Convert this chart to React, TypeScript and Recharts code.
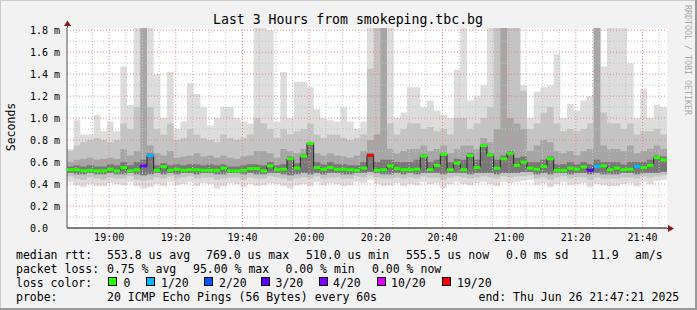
import { ComposedChart, Area, Line, Scatter, XAxis, YAxis, CartesianGrid, ReferenceLine } from "recharts";

// time axis in minutes after midnight, 2 minute buckets
const START = 18 * 60 + 47 + 21 / 60;
const STEP = 2;
const END = START + 180;

const median = [
  0.53, 0.53, 0.52, 0.525, 0.52, 0.52, 0.535, 0.52, 0.55, 0.52,
  0.53, 0.565, 0.66, 0.525, 0.557, 0.525, 0.535, 0.525, 0.53, 0.53,
  0.525, 0.525, 0.525, 0.545, 0.52, 0.52, 0.525, 0.54, 0.54, 0.52,
  0.565, 0.53, 0.535, 0.63, 0.545, 0.655, 0.77, 0.55, 0.535, 0.55,
  0.535, 0.535, 0.53, 0.525, 0.545, 0.66, 0.525, 0.53, 0.565, 0.54,
  0.53, 0.53, 0.535, 0.655, 0.53, 0.57, 0.67, 0.53, 0.59, 0.53,
  0.66, 0.55, 0.75, 0.665, 0.545, 0.63, 0.68, 0.57, 0.6, 0.545,
  0.535, 0.56, 0.63, 0.525, 0.525, 0.545, 0.535, 0.555, 0.525, 0.56,
  0.565, 0.53, 0.545, 0.53, 0.535, 0.56, 0.55, 0.57, 0.64, 0.62,
];

// lost pings out of 20
const loss = [
  0, 0, 0, 0, 0, 0, 0, 0, 0, 0,
  0, 3, 1, 0, 0, 0, 0, 0, 0, 0,
  0, 0, 0, 0, 0, 0, 0, 0, 0, 0,
  0, 0, 0, 0, 0, 0, 0, 0, 0, 0,
  0, 0, 0, 0, 0, 19, 0, 0, 0, 0,
  0, 0, 0, 0, 0, 0, 0, 0, 0, 0,
  0, 0, 0, 0, 0, 0, 0, 0, 0, 0,
  0, 0, 0, 0, 0, 0, 0, 0, 3, 1,
  0, 0, 0, 0, 0, 1, 0, 0, 0, 0,
];

const pingMin = [
  0.42, 0.39, 0.37, 0.4, 0.38, 0.38, 0.41, 0.4, 0.39, 0.42,
  0.38, 0.36, 0.37, 0.4, 0.38, 0.42, 0.39, 0.4, 0.42, 0.38,
  0.41, 0.4, 0.36, 0.38, 0.41, 0.4, 0.37, 0.4, 0.38, 0.39,
  0.41, 0.4, 0.38, 0.36, 0.39, 0.4, 0.38, 0.42, 0.39, 0.41,
  0.4, 0.38, 0.39, 0.42, 0.41, 0.44, 0.4, 0.38, 0.39, 0.41,
  0.38, 0.4, 0.39, 0.42, 0.4, 0.41, 0.36, 0.4, 0.42, 0.4,
  0.39, 0.41, 0.42, 0.4, 0.38, 0.42, 0.41, 0.42, 0.43, 0.44,
  0.39, 0.41, 0.37, 0.4, 0.42, 0.39, 0.4, 0.41, 0.37, 0.4,
  0.39, 0.38, 0.38, 0.4, 0.41, 0.38, 0.42, 0.4, 0.43, 0.44,
];

const pingMax = [
  0.72, 0.98, 0.85, 0.85, 1.03, 0.88, 0.97, 0.88, 1.47, 1.12,
  1.82, 1.82, 1.82, 1.4, 1.0, 1.42, 0.9, 0.97, 1.32, 1.22,
  1.1, 0.93, 1.0, 1.1, 1.1, 1.0, 0.97, 0.95, 1.82, 1.82,
  1.8, 0.97, 1.42, 1.0, 1.33, 1.33, 1.28, 1.08, 1.0, 0.98,
  0.97, 1.1, 0.97, 0.9, 0.97, 1.82, 1.82, 1.82, 1.82, 1.0,
  1.05, 1.28, 1.28, 1.1, 1.16, 1.07, 1.03, 1.0, 1.44, 1.82,
  1.16, 1.2, 1.3, 1.82, 1.82, 1.82, 1.82, 1.82, 1.3, 1.0,
  1.24, 1.28, 1.3, 1.58, 1.0, 1.13, 1.07, 1.16, 1.2, 1.82,
  1.47, 1.82, 1.82, 1.82, 1.5, 1.0, 1.27, 1.0, 1.12, 1.1,
];

const lowMid = [
  0.47, 0.45, 0.44, 0.46, 0.45, 0.44, 0.46, 0.45, 0.45, 0.47,
  0.44, 0.43, 0.44, 0.46, 0.45, 0.47, 0.45, 0.46, 0.47, 0.45,
  0.46, 0.46, 0.44, 0.45, 0.46, 0.46, 0.44, 0.46, 0.45, 0.45,
  0.47, 0.46, 0.45, 0.43, 0.45, 0.46, 0.45, 0.47, 0.45, 0.46,
  0.46, 0.45, 0.45, 0.47, 0.46, 0.48, 0.46, 0.45, 0.45, 0.46,
  0.45, 0.46, 0.45, 0.47, 0.46, 0.46, 0.44, 0.46, 0.47, 0.46,
  0.45, 0.46, 0.47, 0.46, 0.45, 0.47, 0.46, 0.47, 0.47, 0.48,
  0.45, 0.46, 0.44, 0.46, 0.47, 0.45, 0.46, 0.46, 0.44, 0.46,
  0.45, 0.45, 0.45, 0.46, 0.46, 0.45, 0.47, 0.46, 0.47, 0.48,
];

const highMid = [
  0.7, 0.75, 0.78, 0.8, 0.82, 0.8, 0.78, 0.8, 0.95, 0.9,
  1.1, 1.82, 1.1, 0.9, 0.85, 0.95, 0.8, 0.82, 0.9, 0.85,
  0.82, 0.8, 0.78, 0.85, 0.82, 0.8, 0.82, 0.85, 1.0, 0.95,
  0.9, 0.82, 0.9, 0.85, 0.88, 0.9, 0.95, 0.85, 0.82, 0.85,
  0.85, 0.82, 0.8, 0.82, 0.85, 1.45, 1.82, 1.82, 0.95, 0.85,
  0.9, 0.95, 0.95, 0.9, 0.92, 0.88, 0.9, 0.85, 1.0, 1.0,
  0.9, 0.95, 1.0, 1.1, 1.82, 1.82, 1.82, 1.82, 1.25, 0.9,
  0.95, 1.05, 1.1, 0.95, 0.88, 0.9, 0.88, 0.9, 0.95, 1.82,
  1.05, 0.95, 0.95, 0.9, 0.95, 0.85, 0.88, 0.88, 0.9, 0.85,
];

const lowInner = [
  0.5, 0.49, 0.49, 0.5, 0.49, 0.49, 0.5, 0.49, 0.49, 0.5,
  0.49, 0.48, 0.49, 0.5, 0.49, 0.5, 0.49, 0.5, 0.5, 0.49,
  0.5, 0.5, 0.49, 0.49, 0.5, 0.5, 0.49, 0.5, 0.49, 0.49,
  0.5, 0.5, 0.49, 0.48, 0.49, 0.5, 0.49, 0.5, 0.49, 0.5,
  0.5, 0.49, 0.49, 0.5, 0.5, 0.51, 0.5, 0.49, 0.49, 0.5,
  0.49, 0.5, 0.49, 0.5, 0.5, 0.5, 0.49, 0.5, 0.5, 0.5,
  0.49, 0.5, 0.5, 0.5, 0.49, 0.5, 0.5, 0.5, 0.51, 0.51,
  0.49, 0.5, 0.49, 0.5, 0.5, 0.49, 0.5, 0.5, 0.49, 0.5,
  0.49, 0.49, 0.49, 0.5, 0.5, 0.49, 0.5, 0.5, 0.5, 0.51,
];

const highInner = [
  0.6, 0.62, 0.63, 0.64, 0.62, 0.63, 0.64, 0.63, 0.72, 0.66,
  0.7, 1.82, 0.75, 0.68, 0.66, 0.7, 0.64, 0.65, 0.66, 0.68,
  0.65, 0.66, 0.64, 0.66, 0.64, 0.63, 0.65, 0.66, 0.7, 0.7,
  0.68, 0.64, 0.72, 0.7, 0.68, 0.72, 0.78, 0.68, 0.66, 0.68,
  0.66, 0.65, 0.64, 0.66, 0.7, 0.8, 0.85, 1.82, 0.72, 0.68,
  0.7, 0.72, 0.72, 0.75, 0.7, 0.72, 0.75, 0.68, 0.72, 0.75,
  0.75, 0.72, 0.82, 0.78, 0.9, 1.82, 1.0, 0.95, 0.9, 0.7,
  0.75, 0.8, 0.78, 0.7, 0.68, 0.7, 0.66, 0.7, 0.72, 1.82,
  0.75, 0.72, 0.72, 0.7, 0.75, 0.68, 0.7, 0.72, 0.75, 0.72,
];

const highCore = [
  0.56, 0.57, 0.56, 0.57, 0.56, 0.56, 0.58, 0.57, 0.6, 0.57,
  0.6, 0.62, 0.68, 0.57, 0.59, 0.57, 0.58, 0.57, 0.58, 0.58,
  0.57, 0.58, 0.57, 0.58, 0.56, 0.56, 0.57, 0.58, 0.58, 0.57,
  0.6, 0.57, 0.58, 0.65, 0.59, 0.67, 0.78, 0.6, 0.58, 0.6,
  0.58, 0.58, 0.57, 0.57, 0.6, 0.68, 0.6, 0.62, 0.62, 0.6,
  0.6, 0.6, 0.62, 0.67, 0.6, 0.62, 0.68, 0.6, 0.63, 0.62,
  0.68, 0.62, 0.76, 0.68, 0.62, 0.66, 0.7, 0.64, 0.65, 0.6,
  0.6, 0.62, 0.65, 0.58, 0.58, 0.6, 0.58, 0.6, 0.58, 0.62,
  0.6, 0.6, 0.6, 0.58, 0.6, 0.6, 0.6, 0.62, 0.66, 0.65,
];

const xTicks = [1140, 1160, 1180, 1200, 1220, 1240, 1260, 1280, 1300];
const yTicks = [0, 0.2, 0.4, 0.6, 0.8, 1.0, 1.2, 1.4, 1.6, 1.8];
const yMinor = [0.1, 0.3, 0.5, 0.7, 0.9, 1.1, 1.3, 1.5, 1.7];

const lossSteps = [0, 1, 2, 3, 4, 10, 19];
const lossLabels = ["0", "1/20", "2/20", "3/20", "4/20", "10/20", "19/20"];
const lossColors = ["#26ff00", "#00b8ff", "#0059ff", "#5e00ff", "#7e00ff", "#dd00ff", "#ff0000"];

const rows = median.map((m, i) => ({
  t: START + i * STEP,
  median: m,
  outer: [pingMin[i], pingMax[i]],
  mid: [lowMid[i], highMid[i]],
  inner: [lowInner[i], highInner[i]],
  core: [lowInner[i], highCore[i]],
}));
// close the last step at the end of the window
const chartRows = [...rows, { ...rows[rows.length - 1], t: END }];
const medianMarks = rows.map((r, i) => ({ t: r.t + STEP / 2, median: r.median, loss: loss[i] }));

const minorX: number[] = [];
for (let m = 1130; m < END; m += 5) if (m % 20 !== 0) minorX.push(m);

function lossColor(n: number) {
  let c = lossColors[0];
  lossSteps.forEach((s, k) => {
    if (n >= s) c = lossColors[k];
  });
  return c;
}

const hhmm = (v: number) => {
  const h = Math.floor(v / 60);
  const m = Math.round(v % 60);
  return `${h}:${m < 10 ? "0" : ""}${m}`;
};

const MedianMark = (props: any) => {
  const { cx, cy, payload } = props;
  if (cx == null || cy == null) return null;
  return <rect x={cx - 3.4} y={cy - 1.5} width={6.8} height={3} fill={lossColor(payload.loss)} />;
};

const mono = "'DejaVu Sans Mono', monospace";
const tickFont = { fontFamily: mono, fontSize: 10, fill: "#000" };
const minorGrid = "#c4c4c4";
const majorGrid = "#e88a8a";

const legendBoxX = [108, 146, 204, 261, 319, 377, 442];
const legendTextX = [123.5, 161, 219, 275.5, 333, 391, 457];

export default function App() {
  return (
    <div style={{ position: "absolute", left: 0, top: 0, width: 697, height: 310, background: "#f2f2f2" }}>
      <ComposedChart width={697} height={310} data={chartRows} margin={{ top: 28, right: 30, bottom: 62, left: 0 }}>
        <CartesianGrid horizontal={false} vertical={false} fill="#ffffff" />
        <XAxis
          type="number"
          dataKey="t"
          domain={[START, END]}
          ticks={xTicks}
          tickFormatter={hhmm}
          allowDataOverflow
          height={20}
          tickLine={false}
          tickSize={0}
          tickMargin={6}
          tick={tickFont}
          axisLine={{ stroke: "#000" }}
        />
        <YAxis
          type="number"
          domain={[0, 1.82]}
          ticks={yTicks}
          allowDataOverflow
          width={67}
          tickLine={false}
          tickSize={0}
          tickMargin={7}
          tick={tickFont}
          tickFormatter={(v: number) => (v === 0 ? "0.0\u00a0\u00a0" : `${v.toFixed(1)} m`)}
          axisLine={{ stroke: "#555" }}
        />
        <Area dataKey="outer" type="stepAfter" fill="#dddddd" fillOpacity={1} stroke="none" isAnimationActive={false} dot={false} activeDot={false} />
        <Area dataKey="mid" type="stepAfter" fill="#c4c4c4" fillOpacity={1} stroke="none" isAnimationActive={false} dot={false} activeDot={false} />
        <Area dataKey="inner" type="stepAfter" fill="#a6a6a6" fillOpacity={1} stroke="none" isAnimationActive={false} dot={false} activeDot={false} />
        <Area dataKey="core" type="stepAfter" fill="#787878" fillOpacity={1} stroke="none" isAnimationActive={false} dot={false} activeDot={false} />
        {yMinor.map((v) => (
          <ReferenceLine key={`hy${v}`} y={v} stroke={minorGrid} strokeDasharray="1 2" />
        ))}
        {minorX.map((v) => (
          <ReferenceLine key={`hx${v}`} x={v} stroke={minorGrid} strokeDasharray="1 2" />
        ))}
        {yTicks.slice(1).map((v) => (
          <ReferenceLine key={`my${v}`} y={v} stroke={majorGrid} strokeDasharray="1 2" />
        ))}
        {xTicks.map((v) => (
          <ReferenceLine key={`mx${v}`} x={v} stroke={majorGrid} strokeDasharray="1 2" />
        ))}
        <Line dataKey="median" type="stepAfter" stroke="#222" strokeWidth={1} dot={false} activeDot={false} isAnimationActive={false} />
        <Scatter data={medianMarks} dataKey="median" shape={MedianMark} isAnimationActive={false} />
      </ComposedChart>
      <svg width={697} height={310} style={{ position: "absolute", left: 0, top: 0, pointerEvents: "none" }} fontFamily={mono}>
        <line x1={0} y1={0.5} x2={697} y2={0.5} stroke="#cbcbcb" />
        <line x1={0.5} y1={0} x2={0.5} y2={310} stroke="#cbcbcb" />
        <line x1={696} y1={0} x2={696} y2={310} stroke="#999" strokeWidth={2} />
        <line x1={0} y1={309} x2={697} y2={309} stroke="#999" strokeWidth={2} />
        <line x1={67.5} y1={24} x2={67.5} y2={28} stroke="#555" />
        <line x1={667} y1={228.5} x2={669} y2={228.5} stroke="#000" />
        <polygon points="67.5,20.5 64,26 71,26" fill="#8b1a1a" />
        <polygon points="674,228.5 668,225 668,232" fill="#8b1a1a" />
        <text x={348} y={24} textAnchor="middle" fontSize={13.2} fill="#000">
          Last 3 Hours from smokeping.tbc.bg
        </text>
        <text transform="translate(15,127) rotate(-90)" textAnchor="middle" fontSize={11.5} fill="#000">
          Seconds
        </text>
        <text transform="translate(685,5) rotate(90)" fontSize={8.3} fill="#aaaaaa">
          RRDTOOL / TOBI OETIKER
        </text>
        <g fontSize={11.5} fill="#000">
          <text x={16} y={258.5}>median rtt:</text>
          <text x={107} y={258.5}>553.8 us avg</text>
          <text x={206} y={258.5}>769.0 us max</text>
          <text x={306} y={258.5}>510.0 us min</text>
          <text x={406} y={258.5}>555.5 us now</text>
          <text x={506} y={258.5}>0.0 ms sd</text>
          <text x={591} y={258.5}>11.9</text>
          <text x={635} y={258.5}>am/s</text>
          <text x={16} y={272.5}>packet loss:</text>
          <text x={107} y={272.5}>0.75 % avg</text>
          <text x={193} y={272.5}>95.00 % max</text>
          <text x={285.5} y={272.5}>0.00 % min</text>
          <text x={372} y={272.5}>0.00 % now</text>
          <text x={16} y={286.5}>loss color:</text>
          {lossLabels.map((l, k) => (
            <g key={l}>
              <rect x={legendBoxX[k] + 0.5} y={277.5} width={8} height={8} fill={lossColors[k]} stroke="#000" />
              <text x={legendTextX[k]} y={286.5}>{l}</text>
            </g>
          ))}
          <text x={16} y={300.5}>probe:</text>
          <text x={107} y={300.5}>20 ICMP Echo Pings (56 Bytes) every 60s</text>
          <text x={478.5} y={300.5}>end: Thu Jun 26 21:47:21 2025</text>
        </g>
      </svg>
    </div>
  );
}
